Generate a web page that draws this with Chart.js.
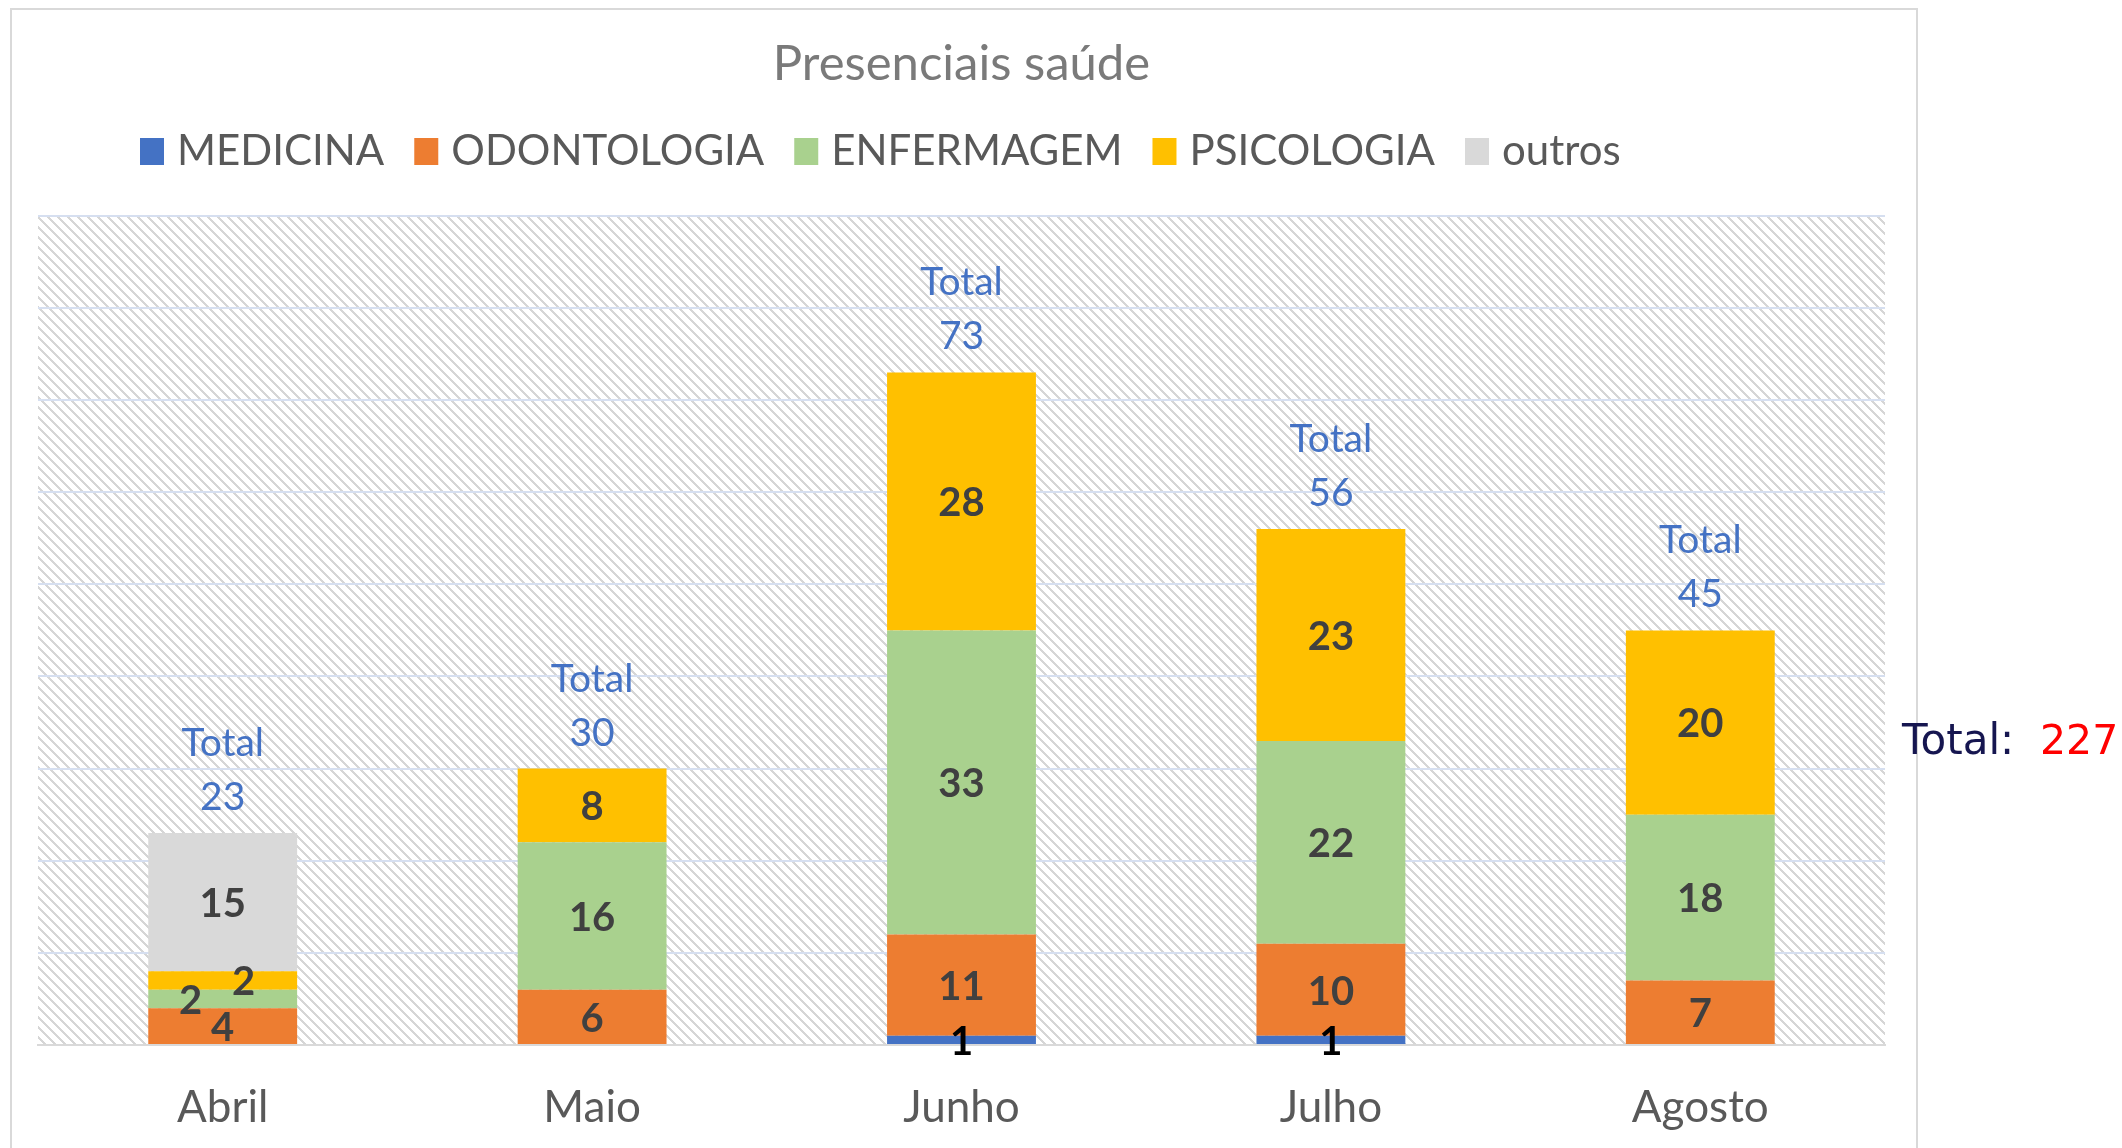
<!DOCTYPE html>
<html>
<head>
<meta charset="utf-8">
<title>Presenciais saúde</title>
<script src="https://cdn.jsdelivr.net/npm/chart.js@4/dist/chart.umd.min.js"></script>
<style>
  html, body { margin: 0; padding: 0; background: #fff; }
  #wrap { width: 2122px; height: 1148px; }
</style>
</head>
<body>
<div id="wrap"><canvas id="chart" width="2122" height="1148"></canvas></div>
<script>
// values
const months = ['Abril', 'Maio', 'Junho', 'Julho', 'Agosto']
const medicina = [0, 0, 1, 1, 0]
const odontologia = [4, 6, 11, 10, 7]
const enfermagem = [2, 16, 33, 22, 18]
const psicologia = [2, 8, 28, 23, 20]
const outros = [15, 0, 0, 0, 0]

const seriesNames = ['MEDICINA', 'ODONTOLOGIA', 'ENFERMAGEM', 'PSICOLOGIA', 'outros']
const seriesValues = [medicina, odontologia, enfermagem, psicologia, outros]
const seriesColors = ['#4472C4', '#ED7D31', '#A9D18E', '#FFC000', '#D9D9D9']

const FONT = 'Lato, "Open Sans", sans-serif'

// small labels in Abril overlap, so Excel pushed them sideways
const labelNudge = { '2:0': -32, '3:0': 21 }

function hatchTile() {
	const tile = document.createElement('canvas')
	tile.width = 10
	tile.height = 10
	const t = tile.getContext('2d')
	t.fillStyle = '#fff'
	t.fillRect(0, 0, 10, 10)
	t.fillStyle = '#d6d6d6'
	for (let y = 0; y < 10; y++) {
		for (let x = 0; x < 10; x++) {
			if ((((x - y) % 10) + 10) % 10 < 3) t.fillRect(x, y, 1, 1)
		}
	}
	return tile
}

const backdrop = {
	id: 'backdrop',
	beforeDraw(chart) {
		const { ctx, chartArea: a } = chart
		ctx.save()
		ctx.fillStyle = '#fff'
		ctx.fillRect(0, 0, chart.width, chart.height)
		ctx.strokeStyle = '#D9D9D9'
		ctx.lineWidth = 2
		ctx.strokeRect(11, 9, 1906, 1200)
		ctx.fillStyle = ctx.createPattern(hatchTile(), 'repeat')
		ctx.fillRect(a.left, a.top, a.right - a.left, a.bottom - a.top)
		ctx.restore()
	},
}

const legendRow = {
	id: 'legendRow',
	afterDraw(chart) {
		const { ctx } = chart
		ctx.save()
		ctx.font = `42px ${FONT}`
		ctx.textBaseline = 'alphabetic'
		let x = 140
		chart.data.datasets.forEach((ds) => {
			ctx.fillStyle = ds.backgroundColor
			ctx.fillRect(x, 138, 24, 27)
			ctx.fillStyle = '#595959'
			ctx.fillText(ds.label, x + 37, 165)
			x += 37 + ctx.measureText(ds.label).width + 30
		})
		ctx.restore()
	},
}

const barLabels = {
	id: 'barLabels',
	afterDatasetsDraw(chart) {
		const { ctx } = chart
		const yScale = chart.scales.y
		ctx.save()
		ctx.textAlign = 'center'
		ctx.textBaseline = 'middle'
		ctx.font = `bold 40px ${FONT}`
		chart.data.datasets.forEach((ds, di) => {
			chart.getDatasetMeta(di).data.forEach((bar, i) => {
				const v = ds.data[i]
				if (!v) return
				const nudge = labelNudge[`${di}:${i}`] || 0
				ctx.fillStyle = di === 0 ? '#000' : '#404040'
				ctx.fillText(String(v), bar.x + nudge, (bar.y + bar.base) / 2 + 2)
			})
		})

		// totals above each stack
		ctx.font = `39px ${FONT}`
		ctx.fillStyle = '#4472C4'
		ctx.textBaseline = 'alphabetic'
		const meta = chart.getDatasetMeta(0)
		months.forEach((m, i) => {
			const total = seriesValues.reduce((s, arr) => s + arr[i], 0)
			const top = yScale.getPixelForValue(total)
			ctx.fillText('Total', meta.data[i].x, top - 77)
			ctx.fillText(String(total), meta.data[i].x, top - 23)
		})

		// grand total beside the frame
		const grand = seriesValues.reduce((s, arr) => s + arr.reduce((a, b) => a + b, 0), 0)
		ctx.textAlign = 'left'
		ctx.font = '42px "DejaVu Sans", sans-serif'
		ctx.fillStyle = '#161650'
		ctx.fillText('Total:', 1902, 754)
		ctx.fillStyle = '#FF0000'
		ctx.font = '41px "DejaVu Sans", sans-serif'
		ctx.fillText(String(grand), 2040, 754)
		ctx.restore()
	},
}

const chart = new Chart(document.getElementById('chart'), {
	type: 'bar',
	data: {
		labels: months,
		datasets: seriesNames.map((name, k) => ({
			label: name,
			data: seriesValues[k],
			backgroundColor: seriesColors[k],
			borderWidth: 0,
			barPercentage: 0.403,
			categoryPercentage: 1,
		})),
	},
	options: {
		responsive: false,
		devicePixelRatio: 1,
		animation: false,
		layout: { padding: { left: 38, right: 237, top: 0, bottom: 0 } },
		plugins: {
			legend: { display: false },
			tooltip: { enabled: false },
			title: {
				display: true,
				text: 'Presenciais saúde',
				color: '#7A7A7A',
				font: { family: FONT, size: 49, weight: 'normal', lineHeight: 1.2 },
				padding: { top: 35, bottom: 122 },
			},
		},
		scales: {
			x: {
				stacked: true,
				grid: { display: false },
				border: { display: true, color: '#D9D9D9', width: 2 },
				ticks: { color: '#595959', font: { family: FONT, size: 44 }, padding: 28 },
				afterFit(scale) { scale.height = 103 },
			},
			y: {
				stacked: true,
				min: 0,
				max: 90,
				ticks: { stepSize: 10, display: false },
				grid: {
					drawTicks: false,
					lineWidth: 2,
					color: (c) => (c.tick && c.tick.value === 0 ? 'rgba(0,0,0,0)' : '#D6DFF0'),
				},
				border: { display: false },
				afterFit(scale) { scale.width = 0 },
			},
		},
	},
	plugins: [backdrop, legendRow, barLabels],
})
</script>
</body>
</html>
